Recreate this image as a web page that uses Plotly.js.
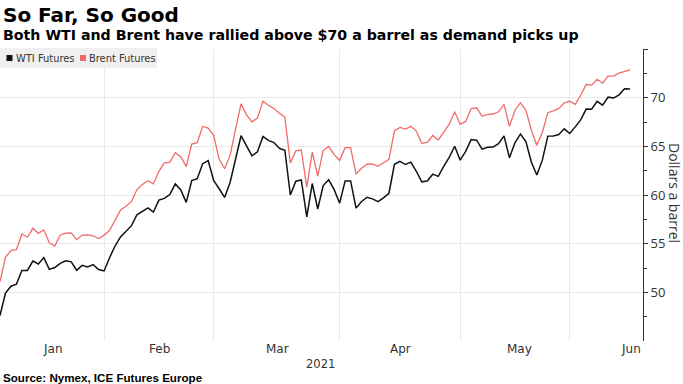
<!DOCTYPE html>
<html>
<head>
<meta charset="utf-8">
<script src="https://cdn.plot.ly/plotly-3.0.1.min.js"></script>
<style>html,body{margin:0;padding:0;background:#fff;}#chart{width:683px;height:384px;}</style>
</head>
<body>
<div id="chart"></div>
<script>
// Trading dates (weekdays), Jan 4 – Jun 14, 2021
const dates = [
 '2021-01-04','2021-01-05','2021-01-06','2021-01-07','2021-01-08',
 '2021-01-11','2021-01-12','2021-01-13','2021-01-14','2021-01-15',
 '2021-01-18','2021-01-19','2021-01-20','2021-01-21','2021-01-22',
 '2021-01-25','2021-01-26','2021-01-27','2021-01-28','2021-01-29',
 '2021-02-01','2021-02-02','2021-02-03','2021-02-04','2021-02-05',
 '2021-02-08','2021-02-09','2021-02-10','2021-02-11','2021-02-12',
 '2021-02-15','2021-02-16','2021-02-17','2021-02-18','2021-02-19',
 '2021-02-22','2021-02-23','2021-02-24','2021-02-25','2021-02-26',
 '2021-03-01','2021-03-02','2021-03-03','2021-03-04','2021-03-05',
 '2021-03-08','2021-03-09','2021-03-10','2021-03-11','2021-03-12',
 '2021-03-15','2021-03-16','2021-03-17','2021-03-18','2021-03-19',
 '2021-03-22','2021-03-23','2021-03-24','2021-03-25','2021-03-26',
 '2021-03-29','2021-03-30','2021-03-31','2021-04-01','2021-04-02',
 '2021-04-05','2021-04-06','2021-04-07','2021-04-08','2021-04-09',
 '2021-04-12','2021-04-13','2021-04-14','2021-04-15','2021-04-16',
 '2021-04-19','2021-04-20','2021-04-21','2021-04-22','2021-04-23',
 '2021-04-26','2021-04-27','2021-04-28','2021-04-29','2021-04-30',
 '2021-05-03','2021-05-04','2021-05-05','2021-05-06','2021-05-07',
 '2021-05-10','2021-05-11','2021-05-12','2021-05-13','2021-05-14',
 '2021-05-17','2021-05-18','2021-05-19','2021-05-20','2021-05-21',
 '2021-05-24','2021-05-25','2021-05-26','2021-05-27','2021-05-28',
 '2021-05-31','2021-06-01','2021-06-02','2021-06-03','2021-06-04',
 '2021-06-07','2021-06-08','2021-06-09','2021-06-10','2021-06-11',
 '2021-06-14'
];

const wti = [
 47.62,49.93,50.63,50.83,52.24, 52.25,53.21,52.91,53.57,52.36,
 52.55,52.98,53.24,53.13,52.27, 52.77,52.61,52.85,52.34,52.20,
 53.55,54.76,55.69,56.23,56.85, 57.97,58.36,58.68,58.24,59.47,
 59.65,60.05,61.14,60.52,59.24, 61.49,61.67,63.22,63.53,61.50,
 60.64,59.75,61.28,63.83,66.09, 65.05,64.01,64.44,66.02,65.61,
 65.39,64.80,64.60,60.00,61.42, 61.55,57.76,61.18,58.56,60.97,
 61.56,60.55,59.16,61.45,61.45, 58.65,59.33,59.77,59.60,59.32,
 59.70,60.18,63.15,63.46,63.13, 63.38,62.44,61.35,61.43,62.14,
 61.91,62.94,63.86,65.01,63.58, 64.49,65.69,65.63,64.71,64.90,
 64.92,65.28,66.08,63.82,65.37, 66.27,65.49,63.36,62.05,63.58,
 66.05,66.07,66.21,66.80,66.32, 67.00,67.72,68.83,68.81,69.62,
 69.23,70.05,69.96,70.29,70.91, 70.88
];

const brent = [
 51.09,53.60,54.30,54.38,55.99, 55.66,56.58,56.06,56.42,55.10,
 54.75,55.90,56.08,56.10,55.41, 55.88,55.91,55.81,55.53,55.88,
 56.35,57.46,58.46,58.84,59.34, 60.56,61.09,61.47,61.14,62.43,
 63.30,63.35,64.34,63.93,62.91, 65.24,65.37,67.04,66.88,66.13,
 63.69,62.70,64.07,66.74,69.36, 68.24,67.52,67.90,69.63,69.22,
 68.88,68.39,68.00,63.28,64.53, 64.62,60.79,64.41,61.95,64.57,
 64.98,64.14,63.54,64.86,64.86, 62.15,62.74,63.16,63.20,62.95,
 63.28,63.67,66.58,66.94,66.77, 67.05,66.57,65.32,65.40,66.11,
 65.65,66.42,67.27,68.56,67.25, 67.56,68.88,68.96,68.09,68.28,
 68.32,68.55,69.32,67.05,68.71, 69.46,68.71,66.66,65.11,66.44,
 68.46,68.65,68.87,69.46,69.63, 69.32,70.25,71.35,71.29,71.89,
 71.49,72.22,72.22,72.52,72.69, 72.86
];

const seriesNames = ['WTI Futures', 'Brent Futures'];
const monthLabels = ['Jan','Feb','Mar','Apr','May','Jun'];
const monthEnds = ['2021-01-29','2021-02-26','2021-03-31','2021-04-30','2021-05-28'];
const yTicks = [50,55,60,65,70,75];
const yTickText = ['50','55','60','65','70',''];
const yMinor = [47.5,52.5,57.5,62.5,67.5,72.5];

// ---- layout helpers (pixel -> paper) ----
const W = 683, H = 384, ML = 0, MR = 40, MT = 49, MB = 43;
const PW = W - ML - MR, PH = H - MT - MB;
const px = x => (x - ML) / PW;
const py = y => (H - MB - y) / PH;

const WTI_COLOR = '#111111';
const BRENT_COLOR = '#f26b6b';
const SMALL_FONT = 'DejaVu Sans Condensed, DejaVu Sans';

const traces = [
  {x: dates, y: wti, name: seriesNames[0], type: 'scatter', mode: 'lines',
   line: {color: WTI_COLOR, width: 1.5}, showlegend: false},
  {x: dates, y: brent, name: seriesNames[1], type: 'scatter', mode: 'lines',
   line: {color: BRENT_COLOR, width: 1.3}, showlegend: false}
];

const monthX = [52.5, 159, 277.5, 400.5, 519, 631];

const annotations = [
  {text: '<b>So Far, So Good</b>', xref: 'paper', yref: 'paper', x: px(1), y: py(15),
   xanchor: 'left', yanchor: 'middle', showarrow: false,
   font: {family: 'DejaVu Sans', size: 20, color: '#000'}},
  {text: '<b>Both WTI and Brent have rallied above $70 a barrel as demand picks up</b>',
   xref: 'paper', yref: 'paper', x: px(1), y: py(35), xanchor: 'left', yanchor: 'middle',
   showarrow: false, font: {family: 'DejaVu Sans', size: 14.2, color: '#000'}},
  {text: seriesNames[0], xref: 'paper', yref: 'paper', x: px(14), y: py(58),
   xanchor: 'left', yanchor: 'middle', showarrow: false,
   font: {family: SMALL_FONT, size: 11, color: '#333'}},
  {text: seriesNames[1], xref: 'paper', yref: 'paper', x: px(87), y: py(58),
   xanchor: 'left', yanchor: 'middle', showarrow: false,
   font: {family: SMALL_FONT, size: 11, color: '#333'}},
  {text: 'Dollars a barrel', xref: 'paper', yref: 'paper', x: px(675), y: py(193),
   xanchor: 'center', yanchor: 'middle', textangle: 90, showarrow: false,
   font: {family: 'Open Sans', size: 14, color: '#333'}},
  {text: '2021', xref: 'paper', yref: 'paper', x: px(320.5), y: py(364),
   xanchor: 'center', yanchor: 'middle', showarrow: false,
   font: {family: 'DejaVu Sans', size: 11.5, color: '#333'}},
  {text: '<b>Source: Nymex, ICE Futures Europe</b>', xref: 'paper', yref: 'paper',
   x: px(1), y: py(377), xanchor: 'left', yanchor: 'middle', showarrow: false,
   font: {family: 'Liberation Sans', size: 11.6, color: '#000'}}
];
monthLabels.forEach((m, i) => annotations.push({
  text: m, xref: 'paper', yref: 'paper', x: px(monthX[i]), y: py(349),
  xanchor: 'center', yanchor: 'middle', showarrow: false,
  font: {family: 'DejaVu Sans', size: 12, color: '#333'}
}));

const shapes = [
  {type: 'rect', xref: 'paper', yref: 'paper', x0: px(0), x1: px(157), y0: py(68), y1: py(48),
   fillcolor: '#f0f0f0', line: {width: 0}, layer: 'above'},
  {type: 'rect', xref: 'paper', yref: 'paper', x0: px(6.5), x1: px(12.5), y0: py(61), y1: py(55),
   fillcolor: WTI_COLOR, line: {width: 0}, layer: 'above'},
  {type: 'rect', xref: 'paper', yref: 'paper', x0: px(80), x1: px(86), y0: py(61), y1: py(55),
   fillcolor: BRENT_COLOR, line: {width: 0}, layer: 'above'}
];

const layout = {
  width: W, height: H,
  margin: {l: ML, r: MR, t: MT, b: MB, pad: 0},
  paper_bgcolor: '#fff', plot_bgcolor: '#fff',
  showlegend: false,
  xaxis: {
    type: 'date', range: ['2021-01-04', '2021-06-16 09:00'],
    rangebreaks: [{bounds: ['sat', 'mon']}],
    tickmode: 'array', tickvals: monthEnds, showticklabels: false,
    ticks: '', showgrid: true, gridcolor: '#e9e9e9', gridwidth: 1,
    zeroline: false, showline: false, automargin: false, fixedrange: true
  },
  yaxis: {
    side: 'right', range: [45, 75],
    tickmode: 'array', tickvals: yTicks, ticktext: yTickText,
    ticks: 'outside', ticklen: 4, tickcolor: '#333', tickwidth: 1,
    minor: {tickmode: 'array', tickvals: yMinor, ticks: 'outside', ticklen: 3, tickcolor: '#333', showgrid: false},
    showline: true, linecolor: '#333', linewidth: 1,
    showgrid: true, gridcolor: '#e9e9e9', gridwidth: 1, zeroline: false,
    tickfont: {family: 'Open Sans', size: 13, color: '#333'},
    automargin: false, fixedrange: true
  },
  annotations: annotations,
  shapes: shapes
};

Plotly.newPlot('chart', traces, layout, {displayModeBar: false, staticPlot: true});
</script>
</body>
</html>
